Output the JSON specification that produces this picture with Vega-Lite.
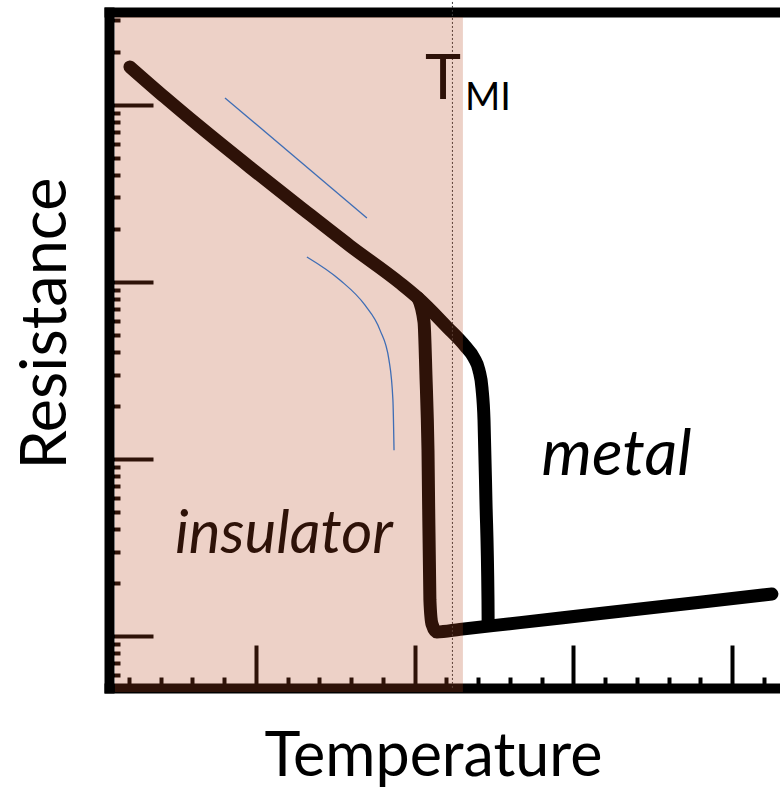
{
  "$schema": "https://vega.github.io/schema/vega-lite/v6.json",
  "width": 671,
  "height": 676,
  "autosize": "none",
  "padding": {"left": 109, "top": 12, "right": 0, "bottom": 102},
  "background": "white",
  "config": {"view": {"stroke": null}},
  "resolve": {"axis": {"x": "independent", "y": "independent"}},
  "datasets": {
    "curves": [
      {"series": "a", "i": 1, "x": 0.206, "y": 1640},
      {"series": "a", "i": 2, "x": 0.4266, "y": 1102.6},
      {"series": "a", "i": 3, "x": 0.6471, "y": 752},
      {"series": "a", "i": 4, "x": 0.9622, "y": 444.2},
      {"series": "a", "i": 5, "x": 1.2772, "y": 265.7},
      {"series": "a", "i": 6, "x": 1.5923, "y": 160.0},
      {"series": "a", "i": 7, "x": 1.9074, "y": 98.7},
      {"series": "a", "i": 8, "x": 2.0208, "y": 81.2},
      {"series": "a", "i": 9, "x": 2.2035, "y": 55.7},
      {"series": "a", "i": 10, "x": 2.317, "y": 43.5},
      {"series": "a", "i": 11, "x": 2.374, "y": 37.2},
      {"series": "a", "i": 12, "x": 2.405, "y": 31.8},
      {"series": "a", "i": 13, "x": 2.424, "y": 25.2},
      {"series": "a", "i": 14, "x": 2.437, "y": 16.6},
      {"series": "a", "i": 15, "x": 2.449, "y": 5.87},
      {"series": "a", "i": 16, "x": 2.462, "y": 1.60},
      {"series": "a", "i": 17, "x": 2.463, "y": 1.169},
      {"series": "b", "i": 1, "x": 2.0208, "y": 81.2},
      {"series": "b", "i": 2, "x": 2.059, "y": 59.4},
      {"series": "b", "i": 3, "x": 2.071, "y": 30.0},
      {"series": "b", "i": 4, "x": 2.084, "y": 11.2},
      {"series": "b", "i": 5, "x": 2.096, "y": 1.597},
      {"series": "b", "i": 6, "x": 2.109, "y": 1.169},
      {"series": "b", "i": 7, "x": 2.140, "y": 1.053},
      {"series": "b", "i": 8, "x": 2.2855, "y": 1.090},
      {"series": "b", "i": 9, "x": 2.6635, "y": 1.190},
      {"series": "b", "i": 10, "x": 3.1676, "y": 1.340},
      {"series": "b", "i": 11, "x": 3.7977, "y": 1.552},
      {"series": "b", "i": 12, "x": 4.251, "y": 1.727}
    ],
    "blue": [
      {"series": "c1", "i": 1, "x": 0.805, "y": 1096},
      {"series": "c1", "i": 2, "x": 1.699, "y": 230},
      {"series": "c2", "i": 1, "x": 1.321, "y": 138.4},
      {"series": "c2", "i": 2, "x": 1.529, "y": 102.6},
      {"series": "c2", "i": 3, "x": 1.686, "y": 74.1},
      {"series": "c2", "i": 4, "x": 1.781, "y": 53.6},
      {"series": "c2", "i": 5, "x": 1.838, "y": 36.3},
      {"series": "c2", "i": 6, "x": 1.863, "y": 21.5},
      {"series": "c2", "i": 7, "x": 1.870, "y": 11.2}
    ],
    "tmi": [{"x": 2.238, "y": 3818, "y2": 0.5083}],
    "shade": [{"x": 0.1115, "x2": 2.304, "y": 3141, "y2": 0.4828}],
    "labT": [{"label": "T", "x": 2.178, "y": 1081}],
    "labMI": [{"label": "MI", "x": 2.317, "y": 940}],
    "labIns": [{"label": "insulator", "x": 1.176, "y": 2.94}],
    "labMetal": [{"label": "metal", "x": 3.272, "y": 8.12}]
  },
  "layer": [
    {
      "data": {"name": "curves"},
      "mark": {"type": "line", "color": "black", "strokeWidth": 13, "strokeCap": "round", "strokeJoin": "round", "interpolate": "monotone"},
      "encoding": {
        "x": {
          "field": "x", "type": "quantitative",
          "scale": {"type": "linear", "domain": [0.074, 4.302], "nice": false, "zero": false},
          "axis": {
            "orient": "bottom",
            "values": [0.2, 0.4, 0.6, 0.8, 1, 1.2, 1.4, 1.6, 1.8, 2, 2.2, 2.4, 2.6, 2.8, 3, 3.2, 3.4, 3.6, 3.8, 4, 4.2],
            "domain": true, "domainColor": "black", "domainWidth": 10, "domainCap": "square",
            "ticks": true, "tickColor": "black", "tickWidth": 4,
            "tickSize": {"condition": {"test": "abs(datum.value - round(datum.value)) < 0.01", "value": -43}, "value": -11},
            "labels": false, "grid": false,
            "title": "Temperature", "titleFont": "Lato", "titleFontSize": 61, "titleFontWeight": "normal", "titleColor": "black",
            "titleX": 324, "titleY": 87, "titleAlign": "center", "titleBaseline": "alphabetic"
          }
        },
        "y": {
          "field": "y", "type": "quantitative",
          "scale": {"type": "log", "domain": [0.5083, 3350], "nice": false},
          "axis": {
            "orient": "left",
            "values": [0.6, 0.7, 0.8, 0.9, 1, 2, 3, 4, 5, 6, 7, 8, 9, 10, 20, 30, 40, 50, 60, 70, 80, 90, 100, 200, 300, 400, 500, 600, 700, 800, 900, 1000, 2000, 3000],
            "domain": true, "domainColor": "black", "domainWidth": 10, "domainCap": "square",
            "ticks": true, "tickColor": "black", "tickWidth": 4,
            "tickSize": {"condition": {"test": "abs(log(datum.value)/LN10 - round(log(datum.value)/LN10)) < 0.001", "value": -44}, "value": -11},
            "labels": false, "grid": false,
            "title": "Resistance", "titleFont": "Lato", "titleFontSize": 63, "titleFontWeight": "normal", "titleColor": "black",
            "titleAngle": 270, "titleX": -44, "titleY": 311, "titleAlign": "center", "titleBaseline": "alphabetic"
          }
        },
        "detail": {"field": "series"},
        "order": {"field": "i", "type": "quantitative"}
      }
    },
    {
      "data": {"name": "tmi"},
      "mark": {"type": "rule", "color": "#3a3a3a", "strokeWidth": 1, "strokeDash": [2, 2]},
      "encoding": {
        "x": {"field": "x", "type": "quantitative", "scale": {"type": "linear", "domain": [0.074, 4.302], "nice": false, "zero": false}, "axis": null},
        "y": {"field": "y", "type": "quantitative", "scale": {"type": "log", "domain": [0.5083, 3350], "nice": false}, "axis": null},
        "y2": {"field": "y2"}
      }
    },
    {
      "data": {"name": "labT"},
      "mark": {"type": "text", "font": "Lato", "fontSize": 61, "align": "center", "baseline": "alphabetic", "color": "black"},
      "encoding": {
        "x": {
          "field": "x", "type": "quantitative", "scale": {"type": "linear", "domain": [0.074, 4.302], "nice": false, "zero": false},
          "axis": {"orient": "top", "domain": true, "domainColor": "black", "domainWidth": 10, "domainCap": "square", "ticks": false, "labels": false, "grid": false, "title": null}
        },
        "y": {"field": "y", "type": "quantitative", "scale": {"type": "log", "domain": [0.5083, 3350], "nice": false}, "axis": null},
        "text": {"field": "label"}
      }
    },
    {
      "data": {"name": "labIns"},
      "mark": {"type": "text", "font": "Lato", "fontSize": 60, "fontStyle": "italic", "align": "center", "baseline": "alphabetic", "color": "black"},
      "encoding": {
        "x": {"field": "x", "type": "quantitative", "scale": {"type": "linear", "domain": [0.074, 4.302], "nice": false, "zero": false}, "axis": null},
        "y": {"field": "y", "type": "quantitative", "scale": {"type": "log", "domain": [0.5083, 3350], "nice": false}, "axis": null},
        "text": {"field": "label"}
      }
    },
    {
      "data": {"name": "shade"},
      "mark": {"type": "rect", "color": "#B84820", "opacity": 0.25},
      "encoding": {
        "x": {"field": "x", "type": "quantitative", "scale": {"type": "linear", "domain": [0.074, 4.302], "nice": false, "zero": false}, "axis": null},
        "x2": {"field": "x2"},
        "y": {"field": "y", "type": "quantitative", "scale": {"type": "log", "domain": [0.5083, 3350], "nice": false}, "axis": null},
        "y2": {"field": "y2"}
      }
    },
    {
      "data": {"name": "blue"},
      "mark": {"type": "line", "color": "#3E6DB5", "strokeWidth": 1.3, "interpolate": "monotone"},
      "encoding": {
        "x": {"field": "x", "type": "quantitative", "scale": {"type": "linear", "domain": [0.074, 4.302], "nice": false, "zero": false}, "axis": null},
        "y": {"field": "y", "type": "quantitative", "scale": {"type": "log", "domain": [0.5083, 3350], "nice": false}, "axis": null},
        "detail": {"field": "series"},
        "order": {"field": "i", "type": "quantitative"}
      }
    },
    {
      "data": {"name": "labMI"},
      "mark": {"type": "text", "font": "Lato", "fontSize": 38, "align": "left", "baseline": "alphabetic", "color": "black"},
      "encoding": {
        "x": {"field": "x", "type": "quantitative", "scale": {"type": "linear", "domain": [0.074, 4.302], "nice": false, "zero": false}, "axis": null},
        "y": {"field": "y", "type": "quantitative", "scale": {"type": "log", "domain": [0.5083, 3350], "nice": false}, "axis": null},
        "text": {"field": "label"}
      }
    },
    {
      "data": {"name": "labMetal"},
      "mark": {"type": "text", "font": "Lato", "fontSize": 64, "fontStyle": "italic", "align": "center", "baseline": "alphabetic", "color": "black"},
      "encoding": {
        "x": {"field": "x", "type": "quantitative", "scale": {"type": "linear", "domain": [0.074, 4.302], "nice": false, "zero": false}, "axis": null},
        "y": {"field": "y", "type": "quantitative", "scale": {"type": "log", "domain": [0.5083, 3350], "nice": false}, "axis": null},
        "text": {"field": "label"}
      }
    }
  ]
}
